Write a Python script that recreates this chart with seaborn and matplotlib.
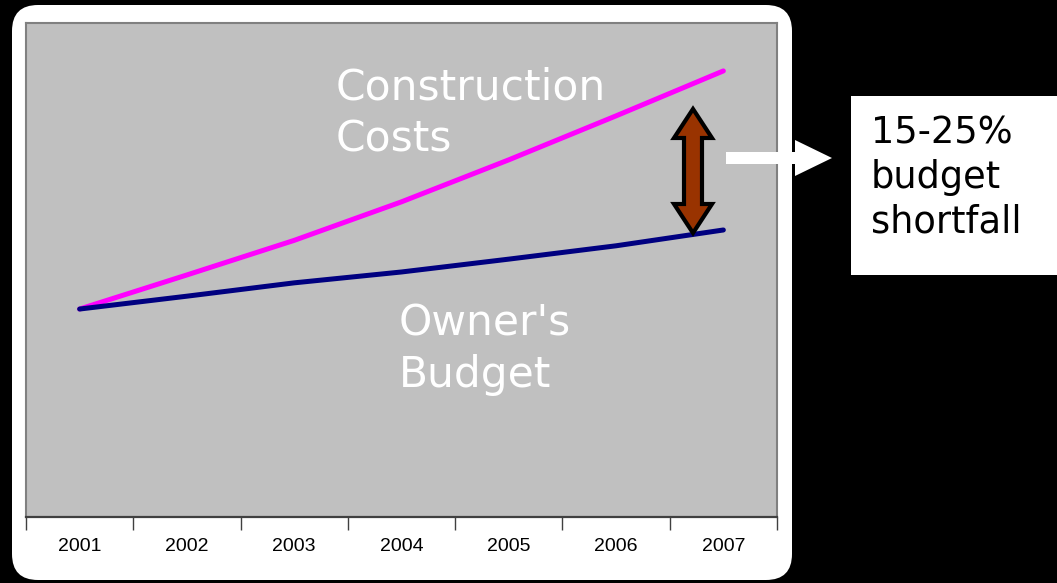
import matplotlib.pyplot as plt
import pandas as pd
import seaborn as sns
from matplotlib.patches import FancyBboxPatch, Polygon, Rectangle
from matplotlib.transforms import IdentityTransform


# ----- Data (arbitrary index units) -----
years = ["2001", "2002", "2003", "2004", "2005", "2006", "2007"]
construction_costs = [42.1, 49.0, 56.0, 63.8, 72.3, 81.2, 90.3]
owners_budget = [42.1, 44.7, 47.4, 49.6, 52.2, 54.9, 58.1]

W, H = 1057, 583


def fx(x):
    return x / W


def fy(y):
    # pixel row measured from the top -> figure fraction
    return 1 - y / H


def pix(points):
    # pixel coords (top-left origin) -> display coords
    return [(x, H - y) for x, y in points]


df = pd.DataFrame({
    "year": years * 2,
    "value": construction_costs + owners_budget,
    "series": ["Construction Costs"] * len(years) + ["Owner's Budget"] * len(years),
})

sns.set_style("white", {"axes.facecolor": "#C0C0C0"})

fig = plt.figure(figsize=(W / 100, H / 100), dpi=100, facecolor="black")

# white rounded panel behind the chart
panel = FancyBboxPatch(
    (12, H - 580), 780, 575,
    boxstyle="round,pad=0,rounding_size=26",
    transform=IdentityTransform(), facecolor="white", edgecolor="none", zorder=-1,
)
fig.patches.append(panel)

ax = fig.add_axes([fx(26), fy(517), fx(751), 494 / H])
sns.lineplot(
    data=df, x="year", y="value", hue="series",
    palette={"Construction Costs": "#FF00FF", "Owner's Budget": "#000080"},
    linewidth=3.6, solid_capstyle="round", legend=False, ax=ax,
)

ax.set_xlim(-0.5, len(years) - 0.5)
ax.set_ylim(0, 100)
ax.set_xlabel("")
ax.set_ylabel("")
ax.set_yticks([])
ax.set_xticks(range(len(years)))
ax.set_xticklabels(years, family=["Liberation Sans Narrow", "Liberation Sans"], fontsize=14)
ax.set_xticks([i - 0.5 for i in range(len(years) + 1)], minor=True)
ax.tick_params(axis="x", which="major", bottom=False, length=0, pad=15, colors="black")
ax.tick_params(axis="x", which="minor", bottom=True, length=9, width=1,
               color="#404040", direction="out")

for side in ["top", "right", "left"]:
    ax.spines[side].set_color("#808080")
    ax.spines[side].set_linewidth(1.5)
ax.spines["bottom"].set_color("#404040")
ax.spines["bottom"].set_linewidth(1.6)

# ----- Labels on the chart -----
fig.text(fx(336), fy(67), "Construction\nCosts", color="white", fontsize=30.5,
         ha="left", va="top", linespacing=1.3)
fig.text(fx(399), fy(302), "Owner's\nBudget", color="white", fontsize=30.5,
         ha="left", va="top", linespacing=1.3)

# ----- Double-headed gap arrow -----
gap_arrow = Polygon(pix([
    (693, 109), (712, 138), (702, 138), (702, 204), (712, 204),
    (693, 233), (674, 204), (684, 204), (684, 138), (674, 138),
]), closed=True, transform=IdentityTransform(), facecolor="#993300",
    edgecolor="black", linewidth=3, joinstyle="miter", zorder=5)
fig.patches.append(gap_arrow)

# ----- White pointer arrow -----
pointer = Polygon(pix([
    (726, 152), (795, 152), (795, 140), (832, 158),
    (795, 176), (795, 164), (726, 164),
]), closed=True, transform=IdentityTransform(), facecolor="white",
    edgecolor="none", zorder=5)
fig.patches.append(pointer)

# ----- Callout box -----
box = Rectangle((851, H - 275), 220, 179, transform=IdentityTransform(),
                facecolor="white", edgecolor="none", zorder=4)
fig.patches.append(box)
fig.text(fx(871), fy(115), "15-25%\nbudget\nshortfall", color="black", fontsize=26.5,
         ha="left", va="top", linespacing=1.25, zorder=6)

fig.savefig("out.png", dpi=100, facecolor="black")
